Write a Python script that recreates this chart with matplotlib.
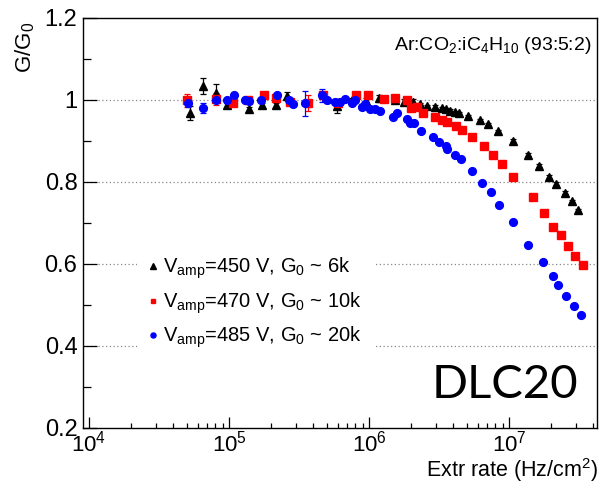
import matplotlib
matplotlib.use("Agg")
import matplotlib.pyplot as plt
from matplotlib.lines import Line2D
from matplotlib.ticker import LogLocator, MultipleLocator, FuncFormatter, NullFormatter

plt.rcParams['font.family'] = ['Liberation Sans', 'DejaVu Sans']
plt.rcParams['mathtext.fontset'] = 'custom'
plt.rcParams['mathtext.rm'] = 'Liberation Sans'
plt.rcParams['mathtext.it'] = 'Liberation Sans:italic'
plt.rcParams['mathtext.bf'] = 'Liberation Sans:bold'

# Vamp = 450 V, G0 ~ 6k
rate_450 = [5.26e4, 6.49e4, 8.07e4, 9.75e4, 1.39e5, 1.71e5, 2.18e5, 2.60e5, 5.87e5,
            7.56e5, 9.52e5, 1.18e6, 1.53e6, 1.78e6, 2.05e6, 2.31e6, 2.61e6, 2.96e6,
            3.30e6, 3.55e6, 3.79e6, 4.12e6, 4.42e6, 5.12e6, 6.21e6, 7.12e6, 8.39e6,
            1.06e7, 1.37e7, 1.64e7, 1.93e7, 2.16e7, 2.53e7, 2.83e7, 3.13e7]
gain_450 = [0.969, 1.034, 1.016, 0.987, 0.977, 0.987, 0.987, 1.009, 0.985,
            1.000, 0.998, 1.004, 1.001, 0.996, 0.995, 0.990, 0.986, 0.984,
            0.981, 0.978, 0.974, 0.970, 0.968, 0.961, 0.951, 0.941, 0.925,
            0.901, 0.867, 0.840, 0.813, 0.796, 0.774, 0.754, 0.732]
err_450 = [0.017, 0.020, 0.022, 0.006, 0.006, 0.006, 0.006, 0.010, 0.016,
           0.006, 0.006, 0.008, 0.006, 0.006, 0.008] + [0.003] * 20

# Vamp = 470 V, G0 ~ 10k
rate_470 = [5.04e4, 8.07e4, 1.07e5, 1.37e5, 1.79e5, 2.18e5, 2.73e5, 3.69e5, 4.72e5,
            6.04e5, 8.07e5, 9.89e5, 1.27e6, 1.53e6, 1.87e6, 1.98e6, 2.19e6, 2.44e6,
            2.96e6, 3.30e6, 3.61e6, 4.15e6, 4.62e6, 5.44e6, 6.63e6, 7.69e6, 8.84e6,
            1.07e7, 1.48e7, 1.78e7, 2.06e7, 2.37e7, 2.65e7, 2.96e7, 3.36e7]
gain_470 = [0.999, 1.003, 0.992, 0.999, 1.012, 1.006, 0.996, 0.992, 1.012,
            0.992, 1.012, 1.012, 1.002, 1.004, 1.000, 0.980, 0.982, 0.968,
            0.959, 0.952, 0.946, 0.937, 0.927, 0.910, 0.887, 0.866, 0.845,
            0.812, 0.764, 0.725, 0.691, 0.671, 0.644, 0.620, 0.598]
err_470 = [0.015, 0.015, 0.005, 0.005, 0.005, 0.005, 0.005, 0.020, 0.005,
           0.005, 0.005, 0.005, 0.005, 0.005, 0.005] + [0.003] * 20

# Vamp = 485 V, G0 ~ 20k
rate_485 = [5.07e4, 6.52e4, 8.07e4, 9.72e4, 1.09e5, 1.31e5, 1.40e5, 1.70e5, 2.19e5,
            2.68e5, 2.88e5, 3.47e5, 4.61e5, 5.05e5, 5.72e5, 6.21e5, 6.74e5, 7.52e5,
            7.94e5, 8.87e5, 9.36e5, 1.02e6, 1.10e6, 1.19e6, 1.49e6, 1.59e6, 1.86e6,
            1.97e6, 2.09e6, 2.35e6, 2.88e6, 3.15e6, 3.57e6, 3.63e6, 4.11e6, 4.52e6,
            5.42e6, 6.39e6, 7.43e6, 8.53e6, 1.07e7, 1.37e7, 1.76e7, 2.07e7, 2.25e7,
            2.54e7, 2.92e7, 3.25e7]
gain_485 = [0.992, 0.980, 1.001, 0.999, 1.011, 1.001, 0.998, 0.999, 1.011,
            0.999, 0.991, 0.992, 1.011, 0.999, 0.996, 0.994, 1.002, 0.992,
            1.000, 0.984, 0.990, 0.978, 0.977, 0.974, 0.959, 0.968, 0.954,
            0.945, 0.944, 0.924, 0.909, 0.898, 0.888, 0.880, 0.866, 0.855,
            0.828, 0.798, 0.775, 0.744, 0.702, 0.646, 0.605, 0.570, 0.549,
            0.522, 0.498, 0.476]
err_485 = [0.010, 0.012, 0.006, 0.006, 0.006, 0.006, 0.006, 0.006, 0.006,
           0.006, 0.006, 0.030, 0.017, 0.006, 0.006] + [0.003] * 33

series = [
    (rate_450, gain_450, err_450, 'black', '^', 6.0, r'V$_{\mathrm{amp}}$=450 V, G$_{0}$ ~ 6k'),
    (rate_470, gain_470, err_470, '#ff0000', 's', 5.2, r'V$_{\mathrm{amp}}$=470 V, G$_{0}$ ~ 10k'),
    (rate_485, gain_485, err_485, '#0000ff', 'o', 5.6, r'V$_{\mathrm{amp}}$=485 V, G$_{0}$ ~ 20k'),
]

fig = plt.figure(figsize=(6.0, 4.88), dpi=100)
ax = fig.add_axes([83 / 600, 1 - 428 / 488, 514 / 600, 410 / 488])

# dotted grid at the major y ticks only
for y in [0.4, 0.6, 0.8, 1.0]:
    ax.axhline(y, color='#888888', lw=0.9, ls=(0, (1, 2)), zorder=0.5)

handles = []
for rate, gain, err, color, marker, ms, label in series:
    ax.errorbar(rate, gain, yerr=err, fmt=marker, color=color, ms=ms, mec=color,
                elinewidth=0.9, capsize=2, capthick=0.9, zorder=3)
    handles.append(Line2D([], [], ls='none', marker=marker, color=color, ms=ms, label=label))

ax.set_xscale('log')
ax.set_xlim(9.06e3, 4.25e7)
ax.set_ylim(0.2, 1.2)
ax.xaxis.set_major_locator(LogLocator(base=10, numticks=10))
ax.xaxis.set_minor_locator(LogLocator(base=10, subs=range(2, 10), numticks=20))
ax.xaxis.set_minor_formatter(NullFormatter())
ax.yaxis.set_major_locator(MultipleLocator(0.2))
ax.yaxis.set_minor_locator(MultipleLocator(0.1))
ax.yaxis.set_major_formatter(FuncFormatter(lambda v, p: '%g' % round(v, 2)))

ax.tick_params(axis='both', which='both', direction='in', top=False, right=False, width=0.9)
ax.tick_params(axis='x', which='major', length=8, labelsize=16, pad=2)
ax.tick_params(axis='x', which='minor', length=3.5)
ax.tick_params(axis='y', which='major', length=10, labelsize=17, pad=4)
ax.tick_params(axis='y', which='minor', length=6)
for sp in ax.spines.values():
    sp.set_linewidth(1.0)

fig.text(25 / 600, 1 - 22 / 488, r'G/G$_{0}$', rotation=90, ha='center', va='top', fontsize=16)
fig.text(598 / 600, 1 - 470 / 488, r'Extr rate (Hz/cm$^{2}$)', ha='right', va='center', fontsize=15.5)
ax.text(0.990, 0.934, r'Ar:CO$_{2}$:iC$_{4}$H$_{10}$ (93:5:2)', transform=ax.transAxes,
        ha='right', va='center', fontsize=14)
ax.text(0.963, 0.105, 'DLC20', transform=ax.transAxes, ha='right', va='center',
        fontsize=34, family=['Lato', 'DejaVu Sans'])

leg = ax.legend(handles=handles, loc='upper left', bbox_to_anchor=(0.085, 0.474), fontsize=14.5,
                frameon=True, facecolor='white', edgecolor='none', framealpha=1,
                fancybox=False, markerscale=0.65, handlelength=0.4, handletextpad=0.3,
                labelspacing=0.45, borderpad=0.6)
leg.set_zorder(2)

fig.savefig('out.png', dpi=100)
